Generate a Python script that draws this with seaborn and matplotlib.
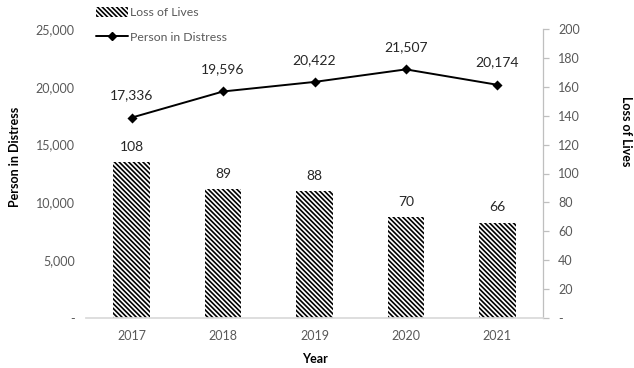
import matplotlib
matplotlib.use("Agg")
import matplotlib.pyplot as plt
import seaborn as sns
import pandas as pd
from matplotlib.ticker import FuncFormatter, MultipleLocator
from matplotlib.patches import Patch
from matplotlib.lines import Line2D

years = ["2017", "2018", "2019", "2020", "2021"]
loss_of_lives = [108, 89, 88, 70, 66]
person_in_distress = [17336, 19596, 20422, 21507, 20174]

sns.set_theme(style="white")
plt.rcParams["font.family"] = ["Lato", "DejaVu Sans"]
plt.rcParams["hatch.linewidth"] = 1.2
plt.rcParams["hatch.color"] = "black"

df = pd.DataFrame({"Year": years, "Loss": loss_of_lives, "PID": person_in_distress})

tick_gray = "#595959"
label_dark = "#262626"
HATCH = "\\" * 7

fig = plt.figure(figsize=(6.34, 3.68), dpi=100)
ax_bar = fig.add_axes([86/634, 1-318/368, (543-86)/634, (318-29)/368])
ax_line = ax_bar.twinx()

# Bars (Loss of Lives) on right axis
sns.barplot(data=df, x="Year", y="Loss", ax=ax_bar, color="white", width=0.4,
            edgecolor="black", linewidth=0, saturation=1)
for p in ax_bar.patches:
    p.set_hatch(HATCH)
    p.set_edgecolor("black")
    p.set_linewidth(0)
ax_bar.set_ylim(0, 200)
ax_bar.yaxis.tick_right()
ax_bar.yaxis.set_label_position("right")
ax_bar.yaxis.set_major_locator(MultipleLocator(20))
ax_bar.yaxis.set_major_formatter(FuncFormatter(lambda v, p: "-" if v == 0 else f"{int(v)}"))
ax_bar.yaxis.set_minor_locator(MultipleLocator(40))
ax_bar.grid(False)
ax_bar.grid(True, which="minor", axis="y", color="#d9d9d9", linewidth=0.9)
ax_bar.set_axisbelow(True)
ax_bar.tick_params(axis="y", which="minor", length=0, right=False)
ax_bar.tick_params(axis="y", which="major", right=True, direction="out", length=4,
                   color="#bfbfbf", width=0.9, labelsize=9, labelcolor=tick_gray, pad=7)
ax_bar.tick_params(axis="x", length=0, labelsize=9, labelcolor=tick_gray, pad=9)
ax_bar.set_xlabel("Year", fontsize=9, fontweight="bold", color="black")
ax_bar.xaxis.set_label_coords(0.5, -0.12)
ax_bar.set_ylabel("Loss of Lives", fontsize=9, fontweight="bold", color="black", rotation=-90)
ax_bar.yaxis.set_label_coords(1.195, 0.647)

for i, v in enumerate(loss_of_lives):
    ax_bar.annotate(f"{v}", (i, v), xytext=(0, 11), textcoords="offset points",
                    ha="center", va="center", fontsize=10, color=label_dark)

# Line (Person in Distress) on left axis
sns.pointplot(data=df, x="Year", y="PID", ax=ax_line, color="black", markers="D",
              linestyles="-", errorbar=None, markersize=4, linewidth=1.4)
ax_line.set_ylim(0, 25000)
ax_line.yaxis.tick_left()
ax_line.yaxis.set_label_position("left")
ax_line.yaxis.set_major_locator(MultipleLocator(5000))
ax_line.yaxis.set_major_formatter(FuncFormatter(lambda v, p: "-" if v == 0 else f"{int(v):,}"))
ax_line.tick_params(axis="y", length=0, labelsize=9, labelcolor=tick_gray, pad=8)
ax_line.grid(False)
ax_line.set_ylabel("Person in Distress", fontsize=9, fontweight="bold", color="black")
ax_line.yaxis.set_label_coords(-0.143, 0.557)
ax_line.set_xlabel("")

for i, v in enumerate(person_in_distress):
    ax_line.annotate(f"{v:,}", (i, v), xytext=(0, 16), textcoords="offset points",
                     ha="center", va="center", fontsize=10, color=label_dark)

for a in (ax_bar, ax_line):
    a.spines["top"].set_visible(False)
    a.spines["left"].set_visible(False)
    a.spines["bottom"].set_color("#d9d9d9")
    a.spines["right"].set_visible(False)
ax_line.spines["bottom"].set_visible(False)
ax_bar.spines["right"].set_visible(True)
ax_bar.spines["right"].set_color("#bfbfbf")
ax_bar.spines["right"].set_linewidth(0.9)
ax_bar.set_xlim(-0.5, 4.5)

handles = [Patch(facecolor="white", edgecolor="black", hatch=HATCH, linewidth=0, label="Loss of Lives"),
           Line2D([0], [0], color="black", marker="D", markersize=4, linewidth=1.4, label="Person in Distress")]
leg = fig.legend(handles=handles, loc="upper left", bbox_to_anchor=(0.14, 1.0), frameon=False,
                 fontsize=8.8, labelcolor=tick_gray, handlelength=2.6, handleheight=0.8,
                 handletextpad=0.2, labelspacing=1.1, borderaxespad=0.2)

fig.savefig("out.png", dpi=100)
